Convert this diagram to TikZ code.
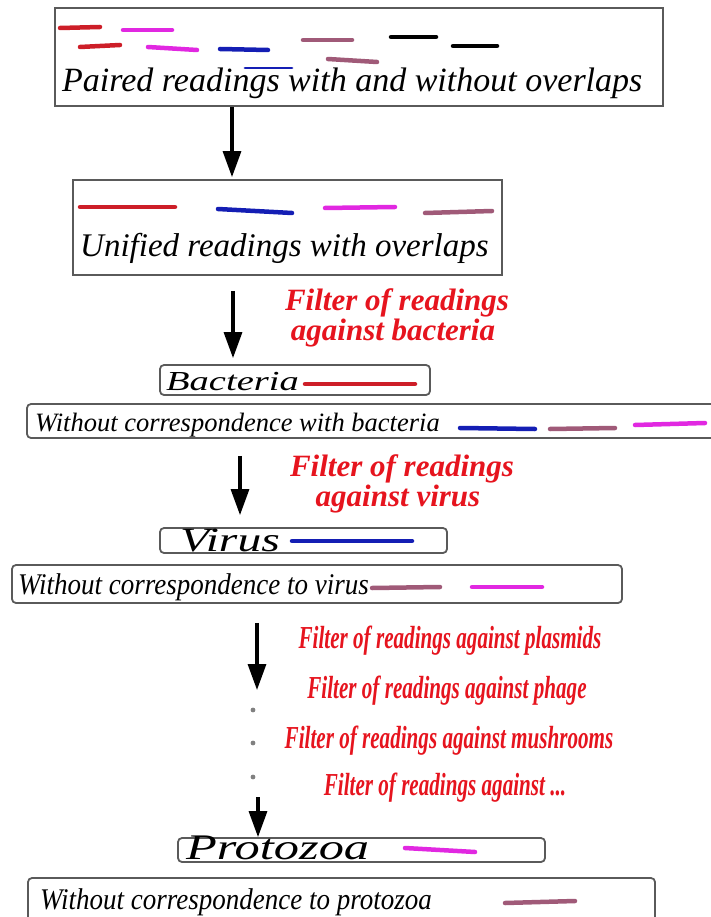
\documentclass[tikz,border=0pt]{standalone}
\usepackage{fontspec}
\setmainfont{Liberation Serif}
\newfontfamily\condfont[FakeStretch=0.66]{Liberation Serif}
\newfontfamily\narrowfont[FakeStretch=0.9]{Liberation Serif}
\newfontfamily\widefont[FakeStretch=1.4]{Liberation Serif}
\usetikzlibrary{arrows.meta, positioning}

\definecolor{readred}{RGB}{205,30,40}
\definecolor{readmag}{RGB}{225,40,225}
\definecolor{readblue}{RGB}{20,30,180}
\definecolor{readmauve}{RGB}{160,90,120}
\definecolor{boxgray}{RGB}{90,90,90}
\definecolor{filtred}{RGB}{230,20,30}

\begin{document}
\begin{tikzpicture}[x=1pt, y=-1pt,
    box/.style={draw=boxgray, line width=1.8pt, inner sep=0pt},
    rbox/.style={box, rounded corners=4pt},
    read/.style={draw=#1, line width=4.5pt, line cap=round},
    flow/.style={-{Triangle[length=26pt, width=18pt]}, line width=3.2pt},
    biglbl/.style={anchor=base west, inner sep=0pt,
                   font=\itshape\fontsize{34}{36}\selectfont},
    smalllbl/.style={anchor=base west, inner sep=0pt,
                     font=\itshape\fontsize{26.5}{30}\selectfont},
    narrowlbl/.style={anchor=base west, inner sep=0pt,
                      font=\narrowfont\itshape\fontsize{30}{34}\selectfont},
    widelbl/.style={anchor=base west, inner sep=0pt,
                    font=\widefont\itshape\fontsize{#1}{#1}\selectfont},
    filt/.style={anchor=base, inner sep=0pt, text=filtred,
                 font=\bfseries\itshape\fontsize{31}{34}\selectfont},
    cfilt/.style={anchor=base, inner sep=0pt, text=filtred,
                  font=\condfont\bfseries\itshape\fontsize{32}{34}\selectfont}
  ]
  \useasboundingbox (0,0) rectangle (710,917);

  % all reads
  \node[box, minimum width=608pt, minimum height=98pt] (paired) at (359,57) {};
  \foreach \xa/\ya/\xb/\yb/\c in {60/28/100/27/readred, 123/30/172/30/readmag,
      80/47/120/45/readred, 148/47/197/50/readmag, 220/49/268/50/readblue,
      303/40/352/40/readmauve, 328/59/377/62/readmauve,
      391/37/436/37/black, 453/46/497/46/black}
    \draw[read=\c] (\xa,\ya) -- (\xb,\yb);
  \draw[read=readblue, line width=2.8pt] (245,68) -- (292,68);
  \node[biglbl] (pairedtxt) at (62,92) {Paired readings with and without overlaps};

  % merged reads
  \node[box, minimum width=429pt, minimum height=95pt] (unified) at (287.5,227.5) {};
  \foreach \xa/\ya/\xb/\yb/\c in {80/207/175/207/readred, 218/209/292/213/readblue,
      325/208/395/207/readmag, 425/213/492/211/readmauve}
    \draw[read=\c] (\xa,\ya) -- (\xb,\yb);
  \node[biglbl, font=\itshape\fontsize{33}{36}\selectfont] (unifiedtxt) at (80,256)
    {Unified readings with overlaps};

  % bacteria
  \node[filt] (fbactA) at (397,310) {Filter of readings};
  \node[filt] (fbactB) at (393,340) {against bacteria};
  \node[rbox, minimum width=270pt, minimum height=30pt] (bact) at (295,380) {};
  \node[widelbl=27.5] (bacttxt) at (166,390) {Bacteria};
  \draw[read=readred] (305,384) -- (415,384);

  \node[rbox, minimum width=688pt, minimum height=34pt] (nobact) at (371,421) {};
  \node[smalllbl] (nobacttxt) at (35,431) {Without correspondence with bacteria};
  \foreach \xa/\ya/\xb/\yb/\c in {460/428/535/429/readblue,
      550/429/615/428/readmauve, 635/425/705/423/readmag}
    \draw[read=\c] (\xa,\ya) -- (\xb,\yb);

  % virus
  \node[filt] (fvirA) at (402,476) {Filter of readings};
  \node[filt] (fvirB) at (398,506) {against virus};
  \node[rbox, minimum width=287pt, minimum height=25pt] (vir) at (303.5,540.5) {};
  \node[widelbl=34] (virtxt) at (180,551) {Virus};
  \draw[read=readblue] (292,541) -- (412,541);

  \node[rbox, minimum width=610pt, minimum height=38pt] (novir) at (317,584) {};
  \node[narrowlbl] (novirtxt) at (18,594) {Without correspondence to virus};
  \draw[read=readmauve] (372,588) -- (440,587);
  \draw[read=readmag] (472,587) -- (542,587);

  % other filters
  \node[cfilt] (fplas) at (450,648) {Filter of readings against plasmids};
  \node[cfilt] (fphag) at (447,698) {Filter of readings against phage};
  \node[cfilt] (fmush) at (449,748) {Filter of readings against mushrooms};
  \node[cfilt] (fetc)  at (445,795) {Filter of readings against ...};

  % protozoa
  \node[rbox, minimum width=367pt, minimum height=24pt] (proto) at (361.5,850) {};
  \node[widelbl=36] (prototxt) at (186,859) {Protozoa};
  \draw[read=readmag] (405,848) -- (475,852);

  \node[rbox, minimum width=627pt, minimum height=48pt] (noproto) at (341.5,902) {};
  \node[narrowlbl] (noprototxt) at (40,909) {Without correspondence to protozoa};
  \draw[read=readmauve] (505,903) -- (575,901);

  % arrows
  \coordinate (a1) at (232,0);
  \coordinate (a2) at (233,0);
  \coordinate (a3) at (240,0);
  \coordinate (gaptop) at (257,690);
  \coordinate (gapbot) at (258,797);
  \draw[flow, shorten >=2pt] (paired.south -| a1) -- (unified.north -| a1);
  \draw[flow, shorten <=15pt, shorten >=6pt] (unified.south -| a2) -- (bact.north -| a2);
  \draw[flow, shorten <=17pt, shorten >=12pt] (nobact.south -| a3) -- (vir.north -| a3);
  \draw[flow, shorten <=19pt] (novir.south -| gaptop) -- (gaptop);
  \foreach \y in {710,743,777}
    \fill[gray] (253,\y) circle (2.4pt);
  \draw[flow] (gapbot) -- (proto.north -| gapbot);
\end{tikzpicture}
\end{document}
